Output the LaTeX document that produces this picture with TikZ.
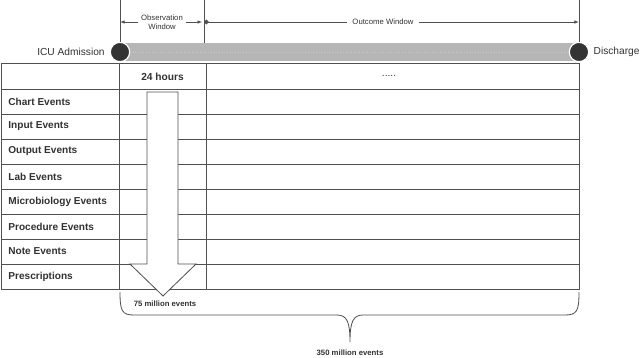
\documentclass[tikz,border=0pt]{standalone}
\usepackage{fontspec}
\setmainfont{Liberation Sans}
\usepackage{tikz}
\usetikzlibrary{arrows.meta,positioning}
\usepackage{xcolor}
\definecolor{cLine}{RGB}{80,80,80}
\definecolor{cBar}{RGB}{182,182,182}
\definecolor{cDot}{RGB}{52,52,52}
\definecolor{cTxt}{RGB}{50,50,50}
\tikzset{
  tlbl/.style={font=\fontsize{8.7}{10}\selectfont, text=cTxt, inner sep=0pt},
  rowlbl/.style={anchor=west, font=\fontsize{8.6}{10}\selectfont\bfseries, text=cTxt, inner sep=0pt},
  winlbl/.style={font=\fontsize{6.6}{8}\selectfont, text=cTxt, align=center, inner sep=2pt},
  cntlbl/.style={font=\fontsize{6.6}{8}\selectfont\bfseries, text=cTxt, inner sep=0pt},
  endpt/.style={circle, fill=cDot, draw=white, line width=1pt, minimum size=0.58cm, inner sep=0pt}
}

\begin{document}
\begin{tikzpicture}[x=0.03cm, y=-0.03cm, line width=0.7pt, draw=cLine]
  \useasboundingbox (0,0) rectangle (640,357);
  % timeline bar
  \fill[cBar] (120,43) rectangle (579,61);
  \draw[cBar!75!white, dotted, line width=0.3pt] (130,52) -- (570,52);
  \node[endpt] (adm) at (120,52) {};
  \node[endpt] (dis) at (579,52) {};
  \node[tlbl, left=0.14cm of adm] {ICU Admission};
  \node[tlbl, right=0.12cm of dis] {Discharge};
  % window marks
  \coordinate (tA) at (120,0);
  \coordinate (tB) at (204,0);
  \coordinate (tC) at (579,0);
  \coordinate (wA) at (120,22);
  \coordinate (wB) at (204,22);
  \coordinate (wC) at (579,22);
  \draw (tA) -- (adm.north);
  \draw (tB) -- (204,43);
  \draw (tC) -- (dis.north);
  \node[winlbl] (obs) at (162,22) {Observation\\Window};
  \node[winlbl, inner sep=4pt] (out) at (383,22) {Outcome Window};
  \draw[-{Latex[length=4pt]}] (obs.west) -- (wA);
  \draw[-{Latex[length=4pt]}] (obs.east) -- ([xshift=-1.5pt]wB);
  \draw[{Circle[length=4pt]}-] (wB) -- (out.west);
  \draw[-{Latex[length=4pt]}] (out.east) -- (wC);
  % table
  \draw (1,63) rectangle (579,289);
  \foreach \y in {89,114,...,264} {
    \draw (1,\y) -- (579,\y);
  }
  \draw (119,63) -- (119,289);
  \draw (206,63) -- (206,289);
  \node[rowlbl, anchor=center, font=\fontsize{8.7}{10}\selectfont\bfseries] (h24) at (162.5,76.5) {24 hours};
  \node[tlbl] (hdots) at (389,75.5) {.....};
  \foreach \i/\t in {1/Chart Events, 2/Input Events, 3/Output Events, 4/Lab Events,
                     5/Microbiology Events, 6/Procedure Events, 7/Note Events, 8/Prescriptions} {
    \node[rowlbl] (r\i) at (8,{76.5+25*\i}) {\t};
  }
  % 24 hour arrow
  \draw[fill=white] (147,92) -- (178,92) -- (178,264) -- (196,264) -- (163,296)
    -- (130,264) -- (147,264) -- cycle;
  \node[cntlbl] (n75) at (165,304) {75 million events};
  % brace
  \draw (120,292) .. controls (120,311) and (122,315) .. (134,315) -- (337,315)
    .. controls (347,315) and (350,322) .. (350,342)
    .. controls (350,322) and (353,315) .. (363,315) -- (565,315)
    .. controls (577,315) and (579,311) .. (579,292);
  \node[cntlbl] (n350) at (350,353) {350 million events};
\end{tikzpicture}
\end{document}
